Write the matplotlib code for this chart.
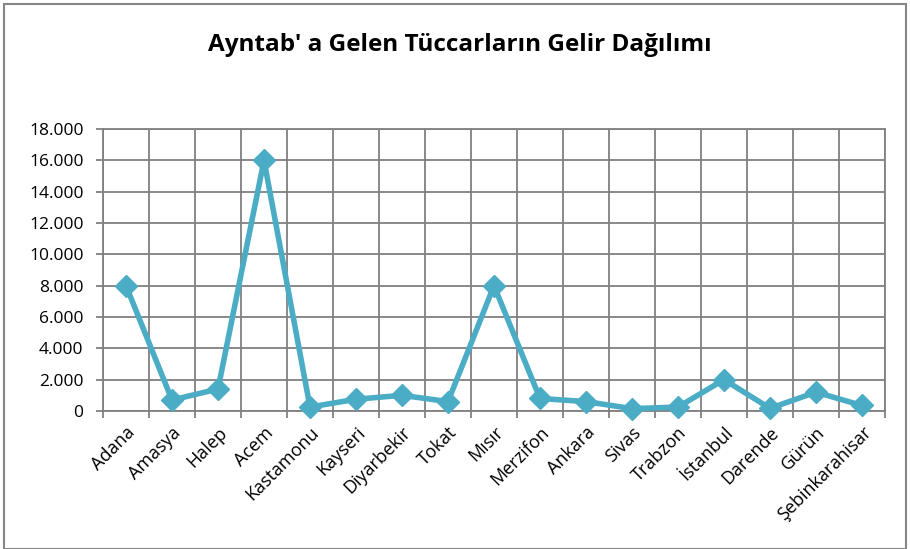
import matplotlib.pyplot as plt
from matplotlib.patches import Rectangle
from matplotlib.ticker import FuncFormatter, FixedLocator

plt.rcParams['font.family'] = ['Open Sans', 'DejaVu Sans']

cities = ['Adana', 'Amasya', 'Halep', 'Acem', 'Kastamonu', 'Kayseri', 'Diyarbekir',
          'Tokat', 'Mısır', 'Merzifon', 'Ankara', 'Sivas', 'Trabzon', 'İstanbul',
          'Darende', 'Gürün', 'Şebinkarahisar']
gelir = [8000, 700, 1400, 16000, 250, 750, 1000, 600, 8000, 800, 600, 150, 250,
         2000, 170, 1200, 350]

fig = plt.figure(figsize=(9.1, 5.49), dpi=100)
ax = fig.add_axes([0.1132, 0.2514, 0.8593, 0.5136])

x = list(range(len(cities)))
ax.plot(x, gelir, color='#4BACC6', linewidth=4, marker='D', markersize=11,
        zorder=3, clip_on=False)

ax.set_xlim(-0.5, len(cities) - 0.5)
ax.set_ylim(0, 18000)
ax.set_yticks(range(0, 18001, 2000))
ax.yaxis.set_major_formatter(FuncFormatter(lambda v, p: f"{int(v):,}".replace(',', '.')))

ax.set_xticks(x)
ax.set_xticklabels(cities, rotation=45, ha='right', rotation_mode='anchor', fontsize=13)
ax.xaxis.set_minor_locator(FixedLocator([i - 0.5 for i in range(len(cities) + 1)]))
ax.tick_params(axis='x', which='major', length=0, pad=9)
ax.tick_params(axis='x', which='minor', length=5, color='#808080', width=1.3)
ax.tick_params(axis='y', length=5, color='#808080', width=1.3, labelsize=12.5, pad=9)

ax.grid(True, axis='y', color='#808080', linewidth=1.3)
ax.grid(True, axis='x', which='minor', color='#808080', linewidth=1.3)
ax.set_axisbelow(True)
for s in ax.spines.values():
    s.set_color('#808080')
    s.set_linewidth(1.3)

fig.text(0.505, 0.918, "Ayntab' a Gelen Tüccarların Gelir Dağılımı", ha='center', va='center',
         fontsize=17.5, fontweight='bold')

fig.patches.append(Rectangle((0.004, 0.0), 0.992, 0.992, transform=fig.transFigure,
                             fill=False, edgecolor='#868686', linewidth=1.5))

fig.savefig('out.png', dpi=100)
